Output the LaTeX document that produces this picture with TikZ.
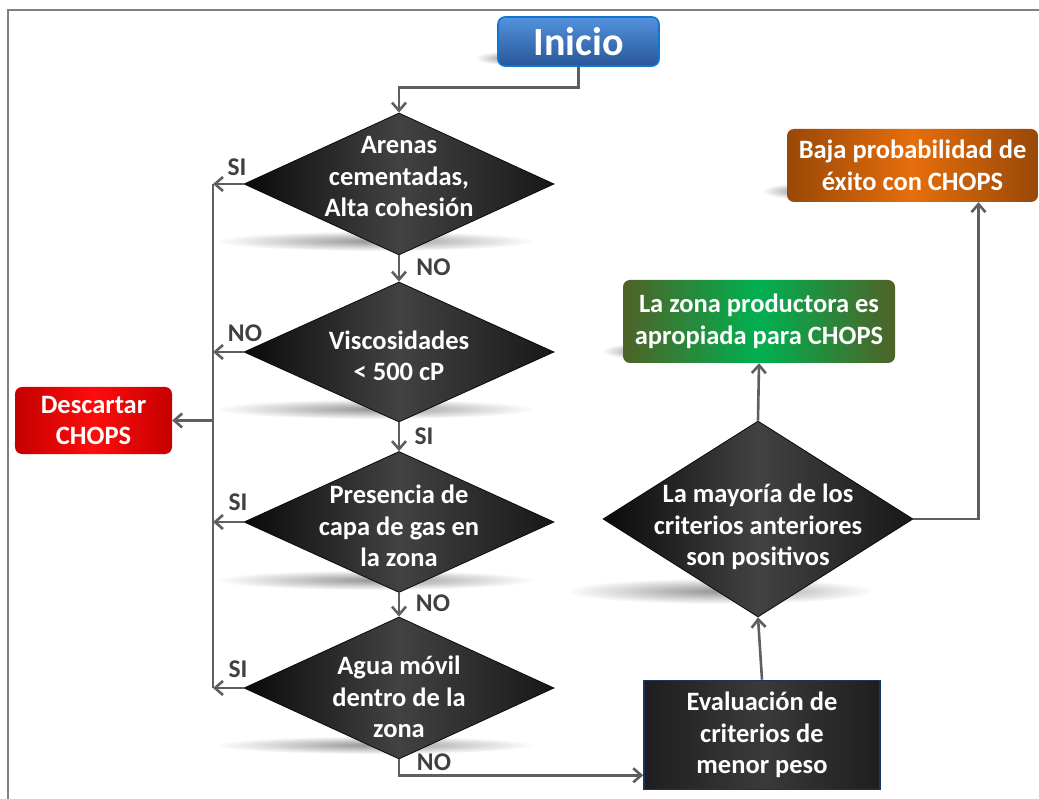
\documentclass[tikz,border=0pt]{standalone}
\usepackage{fontspec}
\setmainfont{Carlito}
\usetikzlibrary{shapes.geometric,arrows.meta,calc}
\definecolor{lgray}{RGB}{95,95,95}
\definecolor{fgray}{RGB}{128,128,128}
\definecolor{lblgray}{RGB}{64,64,64}
\definecolor{inicioT}{RGB}{84,146,222}
\definecolor{inicioB}{RGB}{40,86,152}
\definecolor{inicioD}{RGB}{18,118,205}
\definecolor{redE}{RGB}{196,0,0}
\definecolor{redM}{RGB}{255,12,12}
\definecolor{greenE}{RGB}{79,98,40}
\definecolor{greenM}{RGB}{0,176,80}
\definecolor{orangeE}{RGB}{152,72,7}
\definecolor{orangeM}{RGB}{230,110,12}
\definecolor{diaE}{RGB}{10,10,10}
\definecolor{diaM}{RGB}{66,66,66}
\definecolor{diaR}{RGB}{24,24,24}
\definecolor{evalE}{RGB}{30,30,30}
\definecolor{evalM}{RGB}{58,58,58}
\definecolor{evalD}{RGB}{23,55,94}
\begin{document}
\begin{tikzpicture}[x=1pt,y=-1pt,
  font=\fontsize{26.5}{31.5}\selectfont\bfseries,
  conn/.style={draw=lgray, line width=2.6pt, -{Straight Barb[length=8pt,width=14pt]}},
  plainline/.style={draw=lgray, line width=2.6pt},
  dia/.style={diamond, draw=diaE, line width=0.8pt, left color=diaE, right color=diaR, middle color=diaM, inner sep=0pt, minimum width=310pt},
  dtext/.style={text=white, align=center, inner sep=0pt},
  lbl/.style={text=lblgray, font=\fontsize{25.5}{28}\selectfont\bfseries, inner sep=0pt},
  blob/.style={inner color=black!42, outer color=white},
  rbox/.style={rounded corners=7pt, text=white, align=center, inner sep=0pt},
]
\useasboundingbox (0,0) rectangle (1039,799);
\draw[fgray, line width=2pt] (8,10) rectangle (1050,810);

% shadows
\shade[blob] (375,241) ellipse [x radius=160, y radius=10];
\shade[blob] (375,409) ellipse [x radius=160, y radius=10];
\shade[blob] (375,580) ellipse [x radius=160, y radius=10];
\shade[blob] (375,745) ellipse [x radius=160, y radius=9];
\shade[blob] (720,591) ellipse [x radius=155, y radius=13];
\shade[blob] (510,58) ellipse [x radius=35, y radius=7];
\shade[blob] (45,443) ellipse [x radius=35, y radius=8];
\shade[blob] (640,351) ellipse [x radius=38, y radius=8];
\shade[blob] (800,191) ellipse [x radius=38, y radius=8];

% nodes
\node[rbox, draw=inicioD, line width=1.6pt, top color=inicioT, bottom color=inicioB,
      minimum width=161pt, minimum height=49pt, font=\fontsize{40}{44}\selectfont\bfseries]
      (inicio) at (578.5,41.5) {Inicio};

\node[dia, minimum height=142pt] (d1) at (399,184) {};
\node[dtext] (t1) at (399,177) {Arenas\\cementadas,\\Alta cohesión};
\node[dia, minimum height=140pt] (d2) at (399,352) {};
\node[dtext] (t2) at (399,356) {Viscosidades\\< 500 cP};
\node[dia, minimum height=141pt] (d3) at (399,522) {};
\node[dtext] (t3) at (399,526) {Presencia de\\capa de gas en\\la zona};
\node[dia, minimum height=142pt] (d4) at (399,688) {};
\node[dtext] (t4) at (399,697) {Agua móvil\\dentro de la\\zona};

\node[rbox, left color=redE, right color=redE, middle color=redM,
      minimum width=157pt, minimum height=67pt] (desc) at (93.5,420.5) {Descartar\\CHOPS};

\node[rbox, rounded corners=0pt, draw=evalD, line width=1.6pt, left color=evalE, right color=evalE, middle color=evalM,
      minimum width=236pt, minimum height=109pt] (eval) at (762,735) {Evaluación de\\criterios de\\menor peso};

\node[dia, minimum height=196pt] (d5) at (758,519) {};
\node[dtext] (t5) at (758,527) {La mayoría de los\\criterios anteriores\\son positivos};

\node[rbox, left color=greenE, right color=greenE, middle color=greenM,
      minimum width=272pt, minimum height=83pt] (green) at (759,321.5) {La zona productora es\\apropiada para CHOPS};

\node[rbox, left color=orangeE, right color=orangeE, middle color=orangeM,
      minimum width=251pt, minimum height=73pt] (orange) at (912.5,165.5) {Baja probabilidad de\\éxito con CHOPS};

% connectors
\coordinate (bus) at (213,420.5);
\draw[conn] (inicio.south) -- ++(0,21) -| (d1.north);
\draw[conn] (d1.south) -- (d2.north);
\draw[conn] (d2.south) -- (d3.north);
\draw[conn] (d3.south) -- (d4.north);
\draw[conn] (d4.south) |- ([yshift=15pt]eval.south west);
\draw[plainline] (d1.west -| bus) -- (d4.west -| bus);
\draw[conn] (d1.west) -- (d1.west -| bus);
\draw[conn] (d2.west) -- (d2.west -| bus);
\draw[conn] (d3.west) -- (d3.west -| bus);
\draw[conn] (d4.west) -- (d4.west -| bus);
\draw[conn] (bus) -- (desc.east);
\draw[conn] (eval.north) -- (d5.south);
\draw[conn] (d5.north) -- (green.south);
\draw[conn] (d5.east) -| ([xshift=66pt]orange.south);

% labels
\node[lbl] (l1) at (237,167) {SI};
\node[lbl] (l2) at (433.5,267) {NO};
\node[lbl] (l3) at (245,333) {NO};
\node[lbl] (l4) at (424,436) {SI};
\node[lbl] (l5) at (238,502) {SI};
\node[lbl] (l6) at (433,603) {NO};
\node[lbl] (l7) at (238,669) {SI};
\node[lbl] (l8) at (434,762) {NO};
\end{tikzpicture}
\end{document}
